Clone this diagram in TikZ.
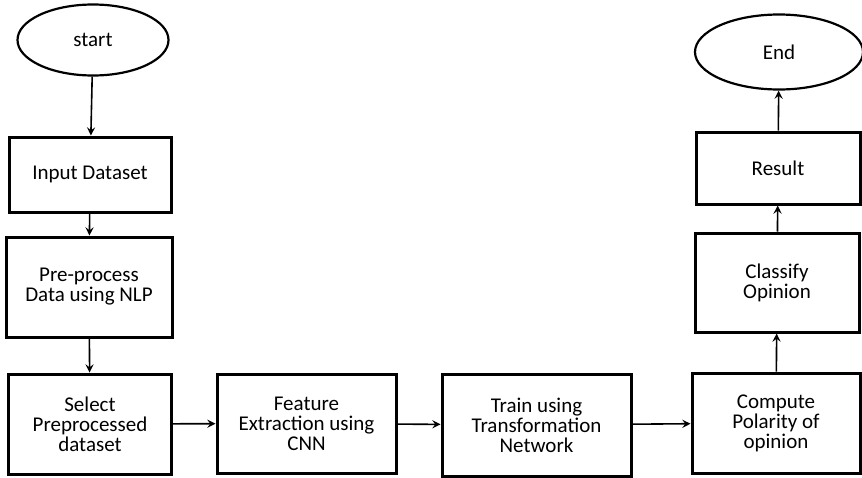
\documentclass[tikz,border=0pt]{standalone}
\usepackage{fontspec}
\setmainfont{Carlito}
\usepackage{tikz}
\usetikzlibrary{arrows,shapes.geometric}
\tikzstyle{arrow} = [line width=0.8pt,-stealth]
\tikzstyle{terminal} = [ellipse,draw,line width=1.1pt,align=center,inner sep=0pt]
\tikzstyle{process} = [rectangle,draw,line width=1.5pt,align=center,inner sep=2pt]

\begin{document}
\begin{tikzpicture}[x=0.5pt,y=-0.5pt,font=\fontsize{10.5}{10}\selectfont]
	\useasboundingbox (0,0) rectangle (862,477);
	\begin{scope}
		% left column
		\node (start) at (93,40) [terminal,minimum width=75.5pt,minimum height=35.5pt] {start};
		\node (input) at (90,174.5) [process,minimum width=81pt,minimum height=37.5pt] {Input Dataset};
		\node (prep) at (89,287) [process,minimum width=83pt,minimum height=50pt] {Pre-process\\Data using NLP};
		\node (select) at (90,424) [process,minimum width=81.5pt,minimum height=50pt] {Select\\Preprocessed\\dataset};
		
		% bottom row
		\node (feature) at (306.5,423.5) [process,minimum width=89.5pt,minimum height=49.5pt] {Feature\\Extraction using\\CNN};
		\node (train) at (536.5,425) [process,minimum width=94.5pt,minimum height=51pt] {Train using\\Transformation\\Network};
		\node (polarity) at (776,423) [process,minimum width=84pt,minimum height=50pt] {Compute\\Polarity of\\opinion};
		
		% right column
		\node (classify) at (777,282.5) [process,minimum width=82pt,minimum height=49.5pt] {Classify\\Opinion};
		\node (result) at (778,168) [process,minimum width=82pt,minimum height=36pt] {Result};
		\node (end) at (779,52) [terminal,minimum width=84pt,minimum height=37.5pt] {End};
		
		\draw [arrow] (start) -- (input);
		\draw [arrow] (input) -- (prep);
		\draw [arrow] (prep) -- (select);
		\draw [arrow] (select) -- (feature);
		\draw [arrow] (feature) -- (train);
		\draw [arrow] (train) -- (polarity);
		\draw [arrow] (polarity) -- (classify);
		\draw [arrow] (classify) -- (result);
		\draw [arrow] (result) -- (end);
	\end{scope}
\end{tikzpicture}
\end{document}
